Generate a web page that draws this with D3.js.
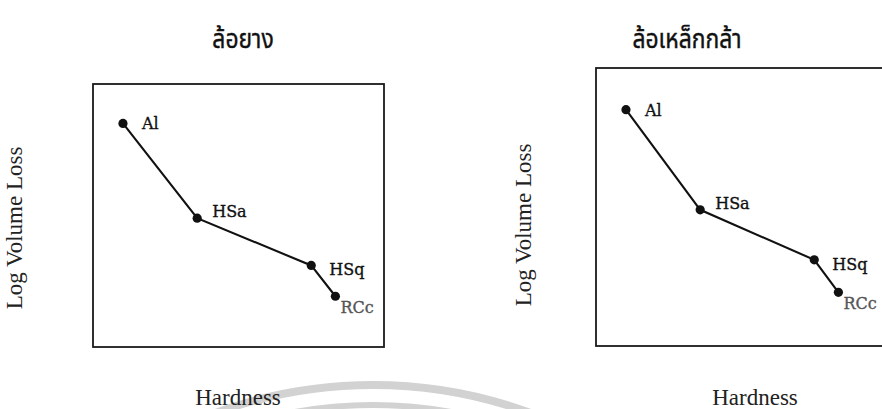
<!DOCTYPE html>
<html>
<head>
<meta charset="utf-8">
<script src="https://cdn.jsdelivr.net/npm/d3@7"></script>
<style>
  html, body { margin: 0; padding: 0; background: #fff; }
  svg { display: block; }
</style>
</head>
<body>
<div id="chart"></div>
<script>
// materials along the curve (same order in both panels)
const materials = ["Al", "HSa", "HSq", "RCc"];
// relative hardness (0-100, no scale printed)
const hardness = [10.3, 35.8, 75, 83.3];
// relative log volume loss (0-10, no scale printed)
const logLoss = [8.5, 4.9, 3.1, 1.93];
const panelTitles = ["ล้อยาง", "ล้อเหล็กกล้า"];
const xTitle = "Hardness";
const yTitle = "Log Volume Loss";

const width = 882, height = 409;

// where each panel sits on the page
const panels = [
    {title: panelTitles[0], left: 93, top: 84, w: 291, h: 263, titleX: 243, xLabelX: 238, yLabelX: 22, yLabelY: 228},
    {title: panelTitles[1], left: 596, top: 68, w: 318, h: 278, titleX: 687, xLabelX: 755, yLabelX: 531, yLabelY: 225}
];

// label offsets from each point
const labelDx = [19, 15, 18, 5];
const labelDy = [6, -1, 10, 17];
const labelColor = ["#111", "#111", "#111", "#555"];

const svg = d3.select("#chart").append("svg")
    .attr("width", width)
    .attr("height", height);

// faint watermark arcs from the scan
const arc = svg.append("g").attr("fill", "none").attr("stroke", "#d2d2d2");
arc.append("circle").attr("cx", 373).attr("cy", 842).attr("r", 457).attr("stroke-width", 8);
arc.append("circle").attr("cx", 373).attr("cy", 842).attr("r", 437).attr("stroke-width", 6);

const line = d3.line();

panels.forEach((p) => {
    const g = svg.append("g");

    // same hardness scale per pixel in both panels
    const x = d3.scaleLinear().domain([0, 100]).range([p.left, p.left + 291]);
    const y = d3.scaleLinear().domain([0, 10]).range([p.top + p.h, p.top]);

    g.append("rect")
        .attr("x", p.left)
        .attr("y", p.top)
        .attr("width", p.w)
        .attr("height", p.h)
        .attr("fill", "none")
        .attr("stroke", "#1a1a1a")
        .attr("stroke-width", 1.8);

    const pts = materials.map((m, i) => [x(hardness[i]), y(logLoss[i])]);

    g.append("path")
        .attr("d", line(pts))
        .attr("fill", "none")
        .attr("stroke", "#111")
        .attr("stroke-width", 2.1);

    g.selectAll("circle.pt")
        .data(pts)
        .join("circle")
        .attr("class", "pt")
        .attr("cx", d => d[0])
        .attr("cy", d => d[1])
        .attr("r", 4.6)
        .attr("fill", "#111");

    g.selectAll("text.lbl")
        .data(materials)
        .join("text")
        .attr("class", "lbl")
        .attr("x", (d, i) => pts[i][0] + labelDx[i])
        .attr("y", (d, i) => pts[i][1] + labelDy[i])
        .attr("font-family", "'DejaVu Serif', serif")
        .attr("font-size", 16)
        .attr("fill", (d, i) => labelColor[i])
        .attr("stroke", (d, i) => labelColor[i])
        .attr("stroke-width", 0.35)
        .text(d => d);

    // panel title (scan font is tall and narrow)
    g.append("text")
        .attr("transform", `translate(${p.titleX},48) scale(0.88,1)`)
        .attr("text-anchor", "middle")
        .attr("font-family", "'Noto Sans Thai', 'Noto Sans', 'DejaVu Sans', sans-serif")
        .attr("font-size", 26)
        .attr("fill", "#111")
        .attr("stroke", "#111")
        .attr("stroke-width", 0.4)
        .text(p.title);

    // axis titles
    g.append("text")
        .attr("x", p.xLabelX)
        .attr("y", 405)
        .attr("text-anchor", "middle")
        .attr("font-family", "'Liberation Serif', 'Times New Roman', serif")
        .attr("font-size", 23)
        .attr("fill", "#222")
        .text(xTitle);

    g.append("text")
        .attr("transform", `translate(${p.yLabelX},${p.yLabelY}) rotate(-90)`)
        .attr("text-anchor", "middle")
        .attr("font-family", "'Liberation Serif', 'Times New Roman', serif")
        .attr("font-size", 23)
        .attr("fill", "#222")
        .text(yTitle);
});
</script>
</body>
</html>
